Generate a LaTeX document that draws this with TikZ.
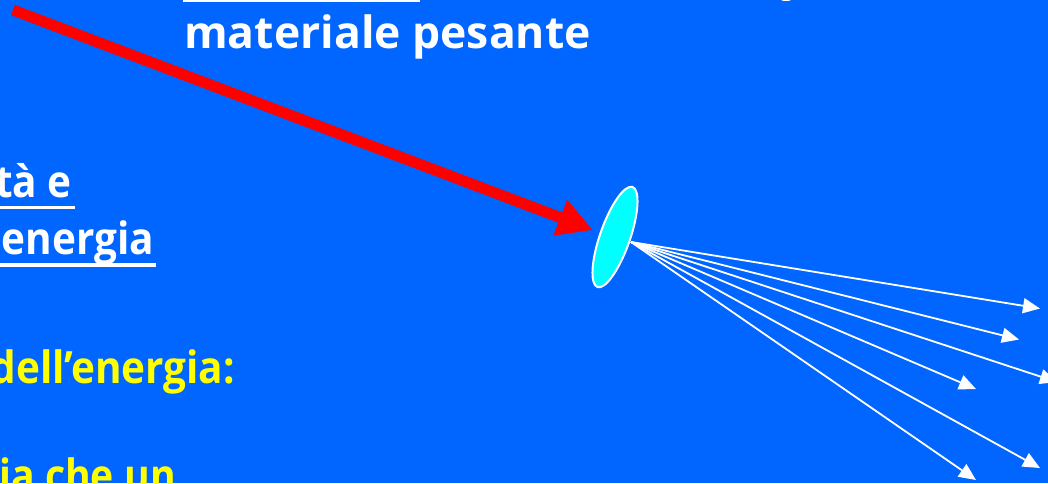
\documentclass[tikz,border=0pt]{standalone}
\usepackage{fontspec}
\setmainfont{Open Sans}
\newfontfamily\leftfont{Open Sans}[FakeStretch=0.91]
\newfontfamily\narrowfont{Open Sans}[FakeStretch=0.88]
\usetikzlibrary{arrows.meta,shapes.geometric}
\definecolor{bg}{HTML}{0066FF}
\definecolor{yel}{HTML}{FFFF00}
\definecolor{disc}{HTML}{00FFFF}
\definecolor{redarrow}{HTML}{FF0000}
\begin{document}
\begin{tikzpicture}[x=1pt,y=-1pt,
  txt/.style={font=\fontsize{44.5}{54}\selectfont\bfseries, inner sep=0pt, text=white},
  ltxt/.style={font=\leftfont\fontsize{44.5}{54}\selectfont\bfseries, inner sep=0pt, text=white, anchor=base east},
  ytxt/.style={ltxt, text=yel},
  uline/.style={white, line width=3.2pt},
  ray/.style={white, line width=1.8pt, -{Triangle[length=17pt,width=15pt]}},
  beam/.style={redarrow, line width=11pt, -{Triangle[length=35pt,width=36pt]}},
  discstyle/.style={ellipse, draw=white, line width=2pt, fill=disc,
    minimum width=106pt, minimum height=30pt, inner sep=0pt, rotate=70.7}]
\path[use as bounding box, fill=bg] (0,0) rectangle (1048,483);
\begin{scope}
\clip (0,0) rectangle (1048,483);
% remains of the line above
\fill[white] (183,-2) rectangle (420,1.8);
\fill[white] (786,-1) ellipse [x radius=6pt, y radius=2pt];
% texts
\node[txt, anchor=base west] (mat) at (184,48) {materiale pesante};
\node[ltxt] (tae) at (72,197.5) {tà e};
\node[ltxt] (ene) at (154,254) {energia};
\node[ytxt] (dell) at (235,383) {dell’energia:};
\node[ytxt, font=\narrowfont\fontsize{44.5}{54}\selectfont\bfseries] (iache) at (176,491) {ia che un};
\draw[uline] (-5,207.5) -- (75,207.5);
\draw[uline] (-5,265) -- (156,265);
% disc
\node[discstyle] (d) at (615,237) {};
% red beam
\coordinate (bstart) at (13,10);
\coordinate (btip) at (593,230);
\draw[beam] (bstart) -- (btip);
% shower rays
\coordinate (src) at (631,242);
\coordinate (e1) at (1040,308.5);
\coordinate (e2) at (1019,339.5);
\coordinate (e3) at (1057,382);
\coordinate (e4) at (976,389);
\coordinate (e5) at (1040,468);
\coordinate (e6) at (976,480);
\foreach \e in {e1,e2,e3,e4,e5,e6} \draw[ray] (src) -- (\e);
\end{scope}
\end{tikzpicture}
\end{document}
